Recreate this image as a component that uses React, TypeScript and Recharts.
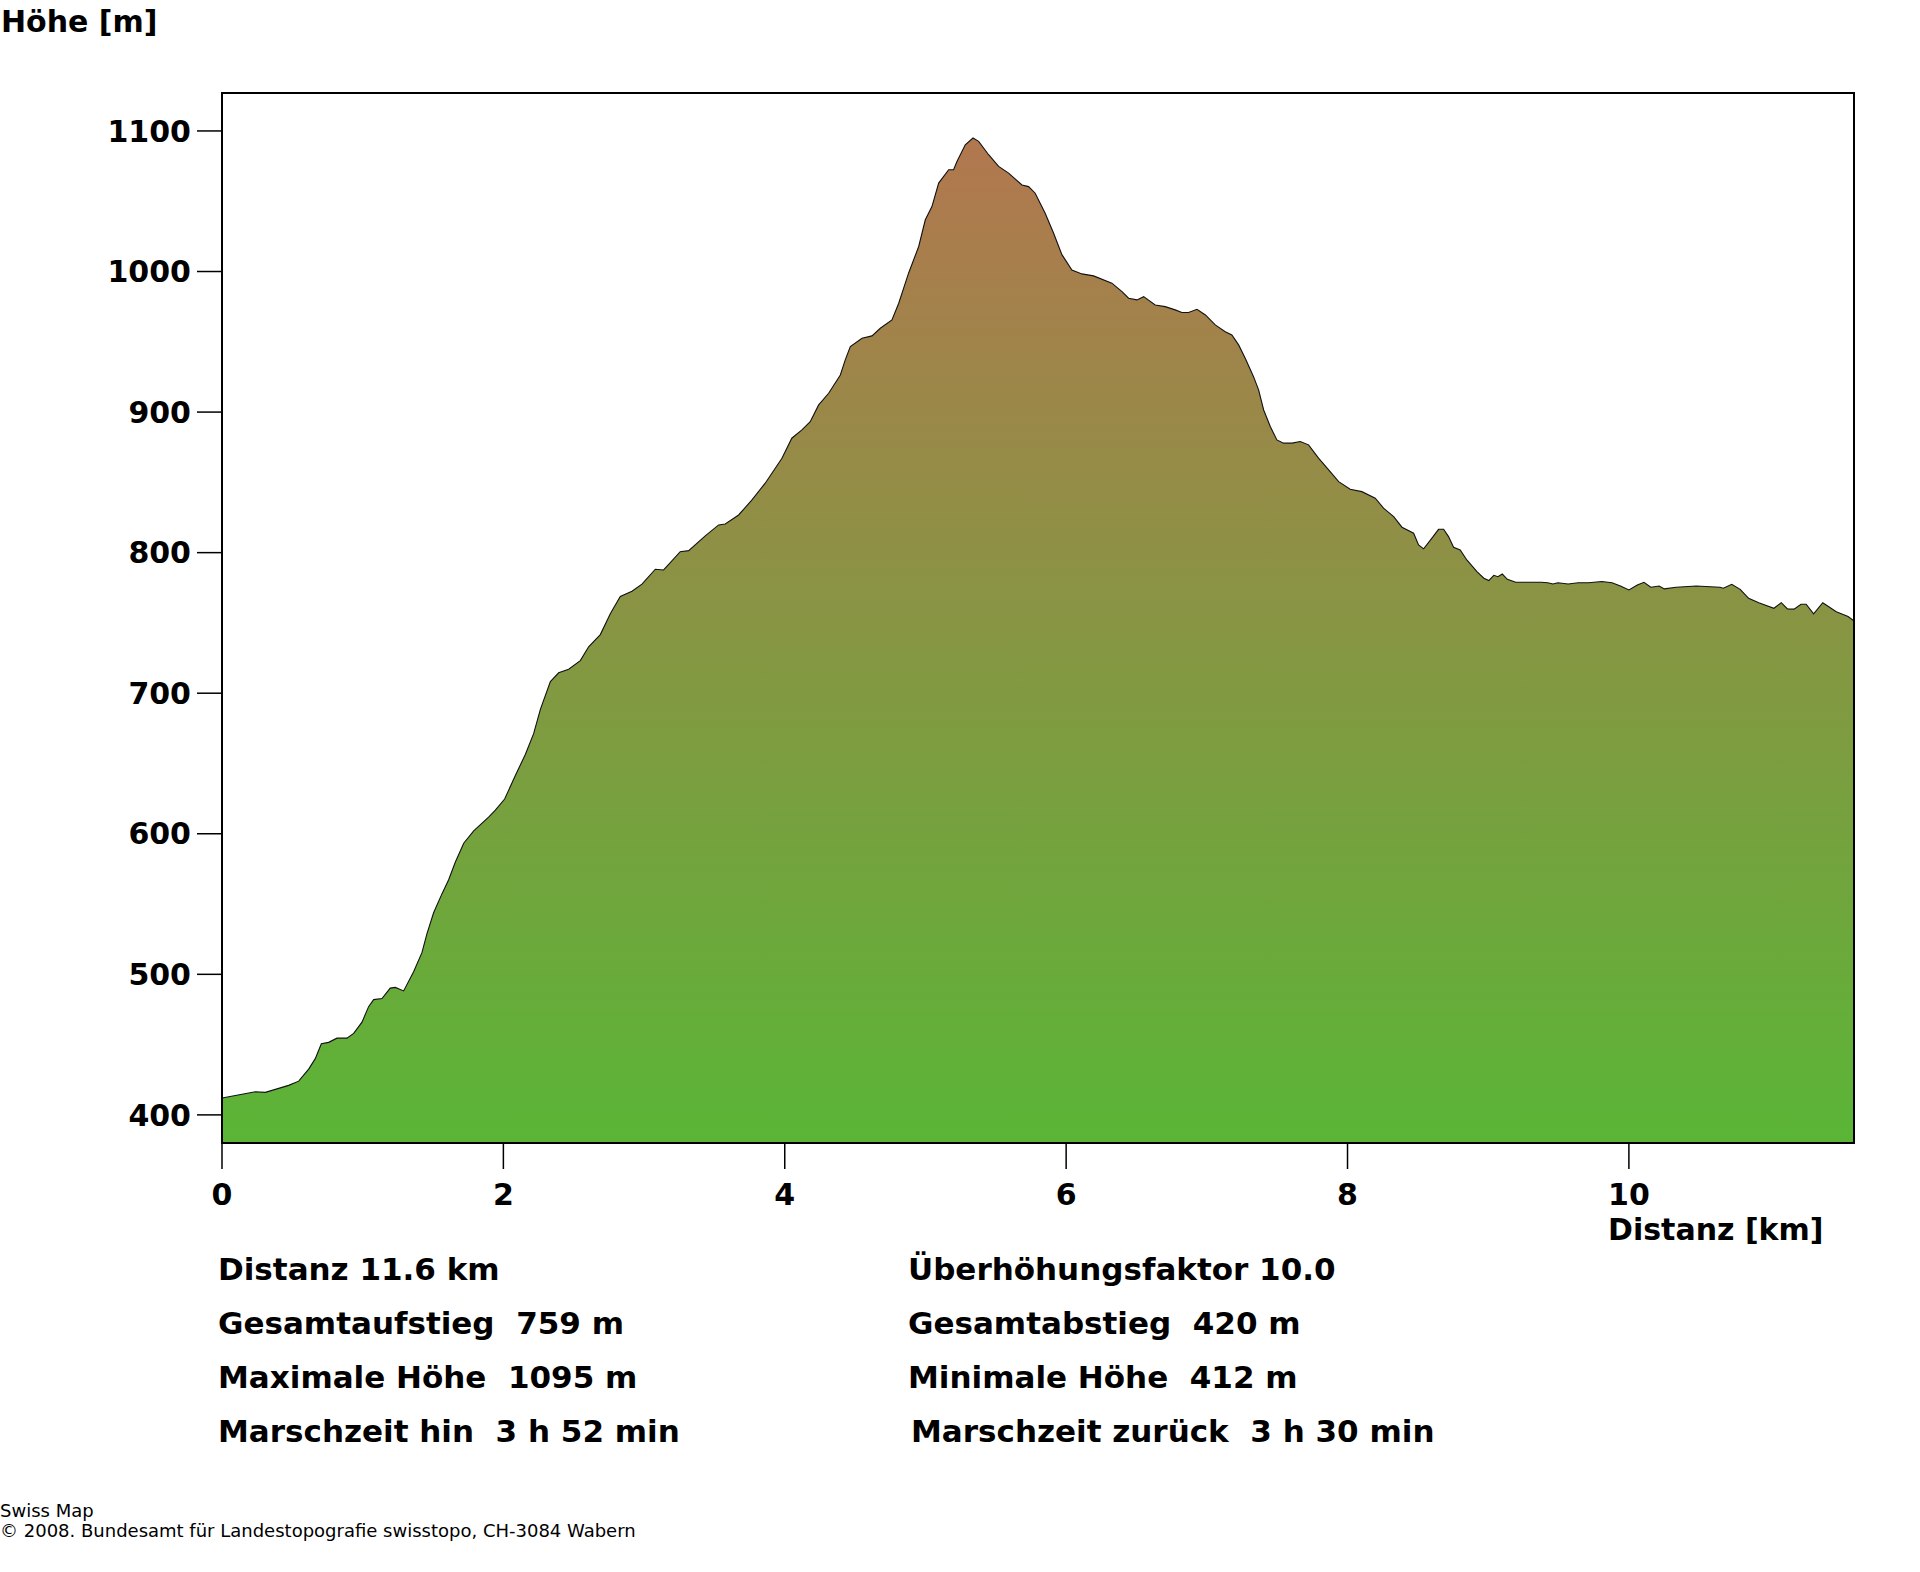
// Elevation profile (Swiss Map style) drawn with Recharts.
import { Area, AreaChart, ReferenceArea, XAxis, YAxis } from "recharts";

const distKm = [
  0, 0.237, 0.308, 0.474, 0.545, 0.616, 0.663, 0.706, 0.758, 0.817, 0.888, 0.936, 0.995, 1.042, 1.078,
  1.137, 1.196, 1.232, 1.291, 1.362, 1.421, 1.457, 1.504, 1.564, 1.611, 1.658, 1.718, 1.789, 1.895, 1.943,
  2.009, 2.085, 2.156, 2.215, 2.263, 2.334, 2.393, 2.464, 2.547, 2.606, 2.689, 2.76, 2.831, 2.914, 2.985,
  3.08, 3.139, 3.257, 3.317, 3.435, 3.53, 3.577, 3.672, 3.767, 3.861, 3.98, 4.05, 4.122, 4.181, 4.241,
  4.312, 4.395, 4.43, 4.466, 4.549, 4.62, 4.679, 4.762, 4.81, 4.88, 4.952, 4.999, 5.046, 5.094, 5.165,
  5.2, 5.224, 5.283, 5.338, 5.378, 5.449, 5.52, 5.591, 5.686, 5.733, 5.78, 5.851, 5.911, 5.97, 6.041,
  6.112, 6.195, 6.325, 6.397, 6.444, 6.503, 6.551, 6.633, 6.704, 6.775, 6.823, 6.87, 6.93, 6.99, 7.06,
  7.131, 7.178, 7.226, 7.273, 7.332, 7.368, 7.404, 7.451, 7.498, 7.546, 7.605, 7.664, 7.723, 7.794, 7.866,
  7.937, 8.019, 8.102, 8.197, 8.256, 8.328, 8.387, 8.47, 8.505, 8.541, 8.6, 8.647, 8.683, 8.718, 8.754,
  8.801, 8.848, 8.92, 8.969, 9.004, 9.04, 9.069, 9.1, 9.136, 9.196, 9.376, 9.424, 9.46, 9.496, 9.568,
  9.64, 9.712, 9.808, 9.88, 9.94, 10.0, 10.06, 10.107, 10.156, 10.215, 10.252, 10.335, 10.479, 10.647, 10.671,
  10.731, 10.791, 10.851, 10.923, 11.031, 11.083, 11.127, 11.174, 11.223, 11.26, 11.313, 11.378, 11.474, 11.558, 11.6,
];

const heightM = [
  412, 416.5, 416, 421, 424, 432.6, 440, 450.6, 451.6, 454.6, 454.6, 458, 466, 477, 482,
  482.8, 490.2, 490.7, 488.2, 501.8, 515.4, 529, 543.8, 557.4, 567.3, 579.7, 593.3, 602, 611.8, 616.8,
  624.7, 641.5, 656.4, 671.2, 688.5, 708.3, 714.5, 717, 723.2, 733, 741.7, 756.5, 768.8, 772.6, 777.6,
  788.2, 787.7, 800.7, 801.4, 811.9, 819.7, 820.4, 826.8, 837.5, 849.4, 867.2, 881.4, 887.3, 893.2, 905.1,
  913.4, 926.4, 937.1, 946.6, 952.5, 954.2, 959.6, 965.6, 977.4, 998.8, 1017.8, 1036.8, 1046.2, 1062.9, 1072.4,
  1072.4, 1078.3, 1090.2, 1095, 1092.6, 1083.1, 1074.8, 1070, 1061.6, 1060.4, 1055.7, 1041.5, 1027.2, 1012, 1001.1,
  998.3, 996.9, 991.7, 985.7, 981, 979.8, 982.1, 976.2, 975, 972.7, 970.8, 970.8, 973.1, 969.1, 962,
  957.2, 954.9, 947.8, 938.3, 925.2, 915.8, 901.5, 889.7, 880.2, 877.9, 877.9, 879.1, 876.7, 867.2, 858.9,
  850.5, 845.1, 843.4, 838.7, 831.6, 825.6, 818.1, 813.8, 805.5, 802.7, 810.3, 816.6, 816.6, 811.4, 803.8,
  801.9, 794.8, 786.5, 781.8, 780.1, 783.9, 782.9, 784.8, 781, 778.9, 778.9, 778.6, 777.7, 778.6, 777.7,
  778.6, 778.6, 779.5, 778.6, 776.3, 773.5, 777, 778.9, 775.4, 776.3, 774.2, 775.4, 776.3, 775.4, 774.7,
  777.5, 773.9, 767.5, 764.4, 760.4, 764.4, 760, 759.8, 763.3, 763.3, 756.4, 764.4, 758, 754.5, 751.4,
];

const xTicks = [0, 2, 4, 6, 8, 10];
const yTicks = [400, 500, 600, 700, 800, 900, 1000, 1100];

const statsLeft = ["Distanz 11.6 km", "Gesamtaufstieg  759 m", "Maximale Höhe  1095 m", "Marschzeit hin  3 h 52 min"];
const statsRight = ["Überhöhungsfaktor 10.0", "Gesamtabstieg  420 m", "Minimale Höhe  412 m", "Marschzeit zurück  3 h 30 min"];

const data = distKm.map((d, i) => ({ d, h: heightM[i] }));

const FONT = '"DejaVu Sans", Verdana, sans-serif';
const tickStyle = { fill: "#000", fontSize: 30, fontWeight: 700, fontFamily: FONT };

export default function App() {
  return (
    <div style={{ position: "absolute", left: 0, top: 0, width: 1920, height: 1572, background: "#fff" }}>
      <AreaChart width={1920} height={1300} data={data} margin={{ top: 93, right: 66, left: 100, bottom: 57 }}>
        <defs>
          <linearGradient id="elev" x1="0" y1="0" x2="0" y2="1">
            <stop offset="0%" stopColor="#b2774f" />
            <stop offset="100%" stopColor="#5ab536" />
          </linearGradient>
        </defs>
        <XAxis
          dataKey="d"
          type="number"
          domain={[0, 11.6]}
          ticks={xTicks}
          height={100}
          tickSize={26}
          tickMargin={15}
          tick={tickStyle}
          tickLine={{ stroke: "#000", strokeWidth: 1.5 }}
          axisLine={{ stroke: "#000", strokeWidth: 1.5 }}
          allowDataOverflow
        />
        <YAxis
          dataKey="h"
          type="number"
          domain={[380, 1127]}
          ticks={yTicks}
          width={122}
          tickSize={25}
          tickMargin={6}
          tick={tickStyle}
          tickLine={{ stroke: "#000", strokeWidth: 1.5 }}
          axisLine={{ stroke: "#000", strokeWidth: 1.5 }}
          allowDataOverflow
        />
        <Area
          type="linear"
          dataKey="h"
          stroke="#111"
          strokeWidth={1.1}
          fill="url(#elev)"
          fillOpacity={1}
          isAnimationActive={false}
          dot={false}
          activeDot={false}
        />
        <ReferenceArea x1={0} x2={11.6} y1={380} y2={1127} fill="none" stroke="#000" strokeWidth={2} />
      </AreaChart>
      <svg
        width={1920}
        height={1572}
        style={{ position: "absolute", left: 0, top: 0, pointerEvents: "none" }}
        fontFamily={FONT}
      >
        <text x={1} y={32} fontSize={30} fontWeight={700}>Höhe [m]</text>
        <text x={1608} y={1240} fontSize={30} fontWeight={700}>Distanz [km]</text>
        {statsLeft.map((s, i) => (
          <text key={s} x={218} y={1280 + i * 54} fontSize={31} fontWeight={700} style={{ whiteSpace: "pre" }}>
            {s}
          </text>
        ))}
        {statsRight.map((s, i) => (
          <text key={s} x={i === 3 ? 911 : 908} y={1280 + i * 54} fontSize={31} fontWeight={700} style={{ whiteSpace: "pre" }}>
            {s}
          </text>
        ))}
        <text x={0} y={1517} fontSize={18}>Swiss Map</text>
        <text x={0} y={1537} fontSize={18}>© 2008. Bundesamt für Landestopografie swisstopo, CH-3084 Wabern</text>
      </svg>
    </div>
  );
}
